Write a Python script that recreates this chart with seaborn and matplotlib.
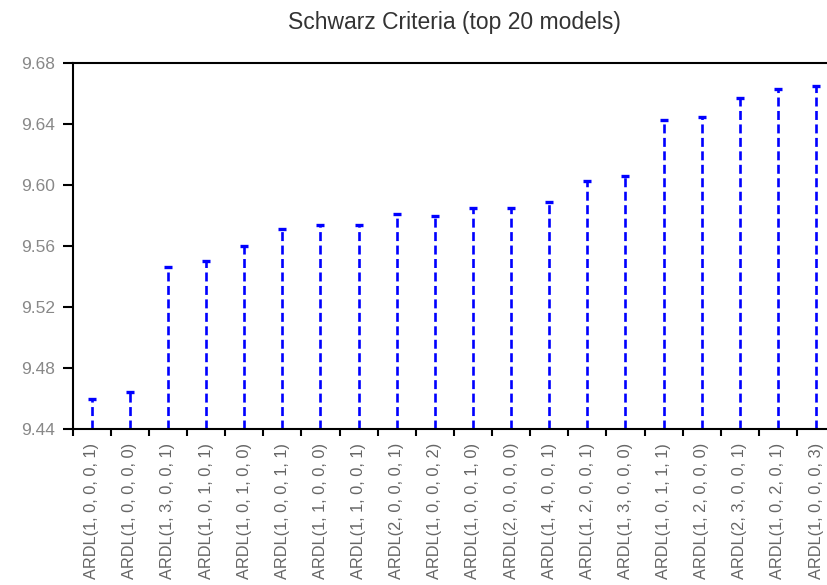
import matplotlib
matplotlib.use("Agg")
import matplotlib.pyplot as plt
import seaborn as sns
import pandas as pd
import numpy as np

models = [
    "ARDL(1, 0, 0, 0, 1)", "ARDL(1, 0, 0, 0, 0)", "ARDL(1, 3, 0, 0, 1)", "ARDL(1, 0, 1, 0, 1)",
    "ARDL(1, 0, 1, 0, 0)", "ARDL(1, 0, 0, 1, 1)", "ARDL(1, 1, 0, 0, 0)", "ARDL(1, 1, 0, 0, 1)",
    "ARDL(2, 0, 0, 0, 1)", "ARDL(1, 0, 0, 0, 2)", "ARDL(1, 0, 0, 1, 0)", "ARDL(2, 0, 0, 0, 0)",
    "ARDL(1, 4, 0, 0, 1)", "ARDL(1, 2, 0, 0, 1)", "ARDL(1, 3, 0, 0, 0)", "ARDL(1, 0, 1, 1, 1)",
    "ARDL(1, 2, 0, 0, 0)", "ARDL(2, 3, 0, 0, 1)", "ARDL(1, 0, 2, 0, 1)", "ARDL(1, 0, 0, 0, 3)",
]
schwarz = [9.460, 9.464, 9.546, 9.550, 9.560, 9.571, 9.574, 9.574, 9.581, 9.580,
           9.585, 9.585, 9.589, 9.603, 9.606, 9.643, 9.645, 9.657, 9.663, 9.665]
yticks = [9.44, 9.48, 9.52, 9.56, 9.60, 9.64, 9.68]

df = pd.DataFrame({"model": models, "sc": schwarz, "pos": np.arange(len(models))})

sns.set_style("white")
plt.rcParams["font.family"] = ["Liberation Sans", "DejaVu Sans"]

fig = plt.figure(figsize=(8.27, 5.85), dpi=100)
ax = fig.add_axes([0.0879, 0.2667, 0.9219, 0.6251])

# dashed stems from the axis floor up to each criterion value
ax.vlines(df["pos"], yticks[0], df["sc"], colors="#0000ff",
          linestyles=(0, (3.4, 1.7)), linewidth=1.9)
sns.scatterplot(data=df, x="pos", y="sc", marker="_", s=36, color="#0000ff",
                linewidth=2.4, ax=ax, legend=False, zorder=3)

ax.set_xlim(-0.5, len(models) - 0.5)
ax.set_ylim(yticks[0], yticks[-1])
ax.set_yticks(yticks)
ax.set_yticklabels([f"{v:.2f}" for v in yticks])
ax.set_xticks(df["pos"])
ax.set_xticklabels(df["model"], rotation=90)
ax.set_xticks(np.arange(-0.5, len(models), 1), minor=True)
ax.tick_params(axis="x", which="major", length=0, pad=10, labelsize=11.8, labelcolor="#666666")
ax.tick_params(axis="x", which="minor", length=5, width=1.5, color="black", bottom=True)
ax.tick_params(axis="y", length=7, width=1.5, color="black", left=True, pad=6,
               labelsize=12.5, labelcolor="#888888")
ax.set_xlabel("")
ax.set_ylabel("")
for s in ax.spines.values():
    s.set_color("black")
    s.set_linewidth(1.5)

fig.text(454 / 827, 1 - 23 / 585, "Schwarz Criteria (top 20 models)",
         ha="center", va="center", fontsize=16.5, color="#333333")

fig.savefig("out.png", dpi=100)
